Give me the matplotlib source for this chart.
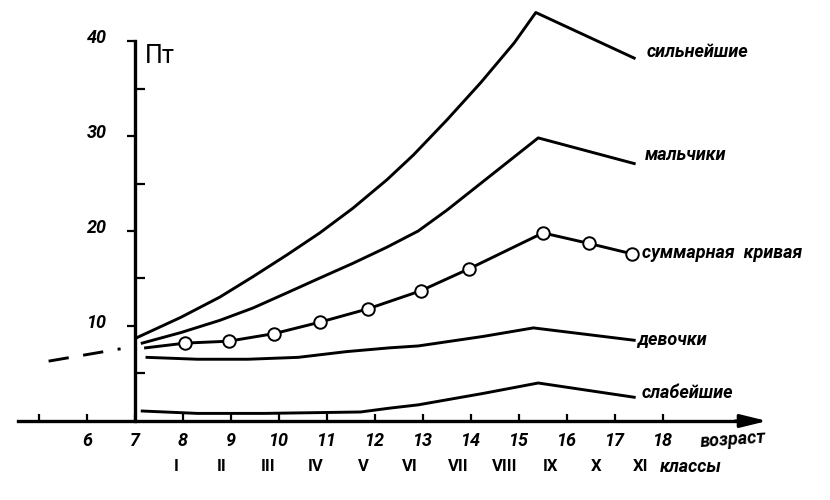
import matplotlib
matplotlib.use("Agg")
import matplotlib.pyplot as plt
from matplotlib.transforms import ScaledTranslation

FAM = ['Roboto', 'DejaVu Sans']
plt.rcParams['font.family'] = FAM

# ---- data ----
strong_age = [7.05, 7.95, 8.77, 9.46, 10.17, 10.85, 11.54, 12.25, 12.8, 13.5, 14.2, 14.9, 15.35, 17.4]
strong_val = [8.8, 10.9, 13.05, 15.2, 17.5, 19.8, 22.4, 25.4, 28.0, 31.7, 35.6, 39.8, 43.0, 38.2]

boys_age = [7.15, 7.95, 8.77, 9.46, 10.17, 10.85, 11.54, 12.25, 12.9, 13.5, 14.2, 14.9, 15.4, 17.4]
boys_val = [8.2, 9.3, 10.6, 11.9, 13.5, 15.05, 16.6, 18.3, 20.0, 22.2, 25.0, 27.8, 29.8, 27.1]

sum_age = [7.22, 8.05, 8.95, 9.9, 10.85, 11.85, 12.95, 13.95, 15.5, 16.45, 17.35]
sum_val = [7.7, 8.2, 8.4, 9.2, 10.4, 11.8, 13.7, 16.0, 19.8, 18.7, 17.6]

girls_age = [7.25, 8.3, 9.35, 10.4, 11.4, 12.3, 12.9, 14.25, 15.3, 17.4]
girls_val = [6.7, 6.5, 6.5, 6.7, 7.3, 7.7, 7.9, 8.9, 9.8, 8.5]

weak_age = [7.15, 8.3, 9.7, 11.05, 11.7, 12.3, 12.9, 14.25, 15.4, 17.4]
weak_val = [1.05, 0.8, 0.8, 0.9, 0.95, 1.35, 1.7, 2.9, 4.0, 2.5]

dash_age = [5.2, 6.7]
dash_val = [6.3, 7.6]

series_labels = ['сильнейшие', 'мальчики', 'суммарная  кривая', 'девочки', 'слабейшие']
label_y = [38.8, 28.0, 17.7, 8.6, 2.9]
label_x = [17.67, 17.62, 17.56, 17.46, 17.56]

age_ticks = [6, 7, 8, 9, 10, 11, 12, 13, 14, 15, 16, 17, 18]
val_ticks = [10, 20, 30, 40]
val_minor = [5, 15, 25, 35]

class_labels = ['I', 'II', 'III', 'IV', 'V', 'VI', 'VII', 'VIII', 'IX', 'X', 'XI']
class_pos = [7.85, 8.81, 9.77, 10.77, 11.75, 12.73, 13.73, 14.71, 15.65, 16.6, 17.54]

# ---- figure ----
fig = plt.figure(figsize=(8.3, 5.0), dpi=100)
ax = fig.add_axes([0, 0, 1, 1])
ax.set_xlim(4.1875, 21.479)
ax.set_ylim(-8.316, 44.316)
ax.set_facecolor('white')

lw = 2.1
ax.plot(strong_age, strong_val, color='black', lw=lw, solid_joinstyle='round')
ax.plot(boys_age, boys_val, color='black', lw=lw, solid_joinstyle='round')
ax.plot(sum_age, sum_val, color='black', lw=lw, marker='o', markersize=9,
        markerfacecolor='white', markeredgecolor='black', markeredgewidth=1.4,
        markevery=list(range(1, len(sum_age))))
ax.plot(girls_age, girls_val, color='black', lw=lw, solid_joinstyle='round')
ax.plot(weak_age, weak_val, color='black', lw=lw, solid_joinstyle='round')
ax.plot(dash_age, dash_val, color='black', lw=lw, dashes=(7, 5))

# axes
for s in ['top', 'right']:
    ax.spines[s].set_visible(False)
ax.spines['left'].set_position(('data', 7))
ax.spines['left'].set_bounds(0, 40)
ax.spines['left'].set_linewidth(2.4)
ax.spines['bottom'].set_position(('data', 0))
ax.spines['bottom'].set_bounds(4.56, 19.9)
ax.spines['bottom'].set_linewidth(2.4)
ax.annotate('', xy=(20.17, 0), xytext=(19.5, 0),
            arrowprops=dict(arrowstyle='-|>,head_length=0.9,head_width=0.22',
                            color='black', lw=2.2, mutation_scale=18,
                            shrinkA=0, shrinkB=0))

tickfont = dict(family=FAM, style='italic', weight='bold', size=13)
labfont = dict(family=FAM, style='italic', weight='bold', size=13)

ax.set_xticks([5] + age_ticks)
ax.set_xticklabels([''] + [str(a) for a in age_ticks], fontdict=tickfont)
ax.tick_params(axis='x', direction='in', length=5, width=1.6, pad=8)

ax.set_yticks(val_ticks)
ax.set_yticklabels([str(v) for v in val_ticks], fontdict=tickfont)
ax.set_yticks(val_minor, minor=True)
ax.yaxis.set_tick_params(which='major', direction='out', length=6, width=1.6, pad=14)
ax.yaxis.set_tick_params(which='minor', direction='in', length=7, width=1.6,
                         left=True, right=False)
off = ScaledTranslation(0, 5 / 100, fig.dpi_scale_trans)
for lab in ax.get_yticklabels():
    lab.set_transform(lab.get_transform() + off)

# texts
ax.text(7.2, 38.4, 'Пт', fontsize=18, ha='left', va='center', family=FAM)

for lx, ly, t in zip(label_x, label_y, series_labels):
    ax.text(lx, ly, t, ha='left', va='center', **labfont)

for cp, cl in zip(class_pos, class_labels):
    ax.text(cp, -4.84, cl, ha='center', va='center', fontsize=12, weight='bold',
            family=FAM)
ax.text(17.94, -4.84, 'классы', ha='left', va='center', **labfont)
ax.text(18.77, -2.0, 'возраст', ha='left', va='center', rotation=4, **labfont)

fig.savefig('out.png', dpi=100, facecolor='white')
